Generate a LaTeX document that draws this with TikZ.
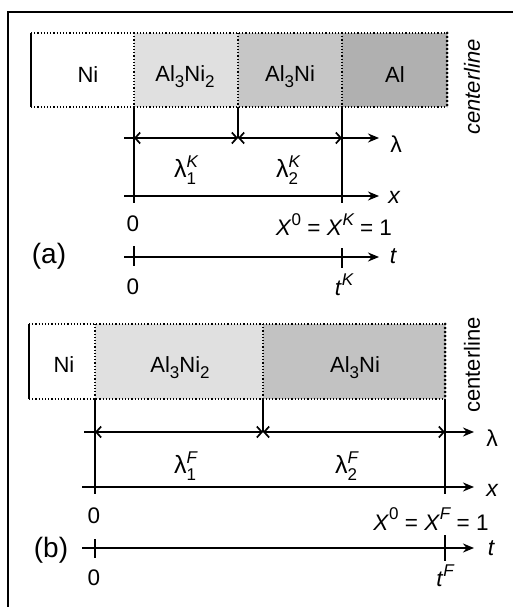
\documentclass[tikz,border=0pt]{standalone}
\usepackage{fontspec}
\setmainfont{Liberation Sans}
\usetikzlibrary{arrows.meta}
\newcommand\sbx[1]{\raisebox{-0.28em}{\fontsize{17}{17}\selectfont #1}}
\newcommand\spx[1]{\raisebox{0.45em}{\fontsize{17}{17}\selectfont #1}}
\newcommand\lamsym[2]{{\fontsize{25}{25}\selectfont λ}\rlap{\spx{\itshape #1}}\sbx{#2}}
\begin{document}
\begin{tikzpicture}[x=1pt,y=-1pt,
  lw/.style={line width=1.8pt},
  axis/.style={line width=1.8pt,-{Stealth[length=11pt,width=9pt]}},
  dimarrow/.style={line width=1.8pt,{Straight Barb[length=5pt,width=11pt,line width=1.7pt]}-{Straight Barb[length=5pt,width=11pt,line width=1.7pt]}},
  dotb/.style={line width=1.2pt,dotted},
  heavydot/.style={line width=3pt,line cap=round,dash pattern=on 0pt off 4pt},
  phase/.style={font=\fontsize{22}{24}\selectfont, inner sep=1pt},
  lab/.style={font=\fontsize{22.5}{24}\selectfont, inner sep=1pt},
  axlab/.style={font=\fontsize{23}{25}\selectfont, inner sep=1pt},
  big/.style={font=\fontsize{28}{30}\selectfont, inner sep=1pt},
  cl/.style={font=\fontsize{22}{24}\selectfont, rotate=90, inner sep=1pt}]
\useasboundingbox (0,0) rectangle (513,607);
% frame
\draw[line width=1.3pt] (513,12) -- (8,12) -- (8,607);

% ---------------- panel (a)
\fill[gray!24] (134,33) rectangle (238,107);
\fill[gray!45] (238,33) rectangle (342,107);
\fill[gray!62] (342,33) rectangle (447,107);
\draw[dotb] (31,33) -- (447,33);
\draw[dotb] (31,107) -- (447,107);
\draw[dotb] (134,33) -- (134,107);
\draw[dotb] (238,33) -- (238,107);
\draw[dotb] (342,33) -- (342,107);
\draw[lw] (31,33) -- (31,107);
\draw[heavydot] (447,33) -- (447,107);
\node[phase] (niA) at (88,75) {Ni};
\node[phase] (a32A) at (185,77) {Al\sbx{3}Ni\sbx{2}};
\node[phase] (a3A) at (290,77) {Al\sbx{3}Ni};
\node[phase] (alA) at (395,75) {Al};
\node[cl] (clA) at (472,87) {\itshape centerline};

\coordinate (a0b) at (134,107);
\coordinate (a1b) at (238,107);
\coordinate (a2b) at (342,107);
\coordinate (a0l) at (134,138);
\coordinate (a1l) at (238,138);
\coordinate (a2l) at (342,138);
\coordinate (alS) at (124,138);
\coordinate (alE) at (379,138);
\coordinate (a0x) at (134,203);
\coordinate (a2x) at (342,203);
\coordinate (axS) at (124,196);
\coordinate (axE) at (379,196);
\coordinate (atS) at (124,257);
\coordinate (atE) at (379,257);
\draw[lw] (a0b) -- (a0x);
\draw[lw] (a1b) -- (a1l);
\draw[lw] (a2b) -- (a2x);
\draw[lw] (alS) -- (a0l);
\draw[dimarrow] (a0l) -- (a1l);
\draw[dimarrow] (a1l) -- (a2l);
\draw[axis] (a2l) -- (alE);
\draw[axis] (axS) -- (axE);
\draw[axis] (atS) -- (atE);
\draw[lw] (134,246) -- (134,266);
\draw[lw] (342,248) -- (342,268);
\node[axlab] (lamA) at (396,144) {λ};
\node[axlab] (xA) at (394,197) {\itshape x};
\node[axlab] (tA) at (393,256) {\itshape t};
\node[lab] (l1A) at (185,170) {\lamsym{K}{1}};
\node[lab] (l2A) at (287,170) {\lamsym{K}{2}};
\node[lab] (z1A) at (133,224) {0};
\node[lab] (eqA) at (334,225) {\textit{X}\spx{0} = \textit{X}\spx{\itshape K} = 1};
\node[big] (pa) at (49,256) {(a)};
\node[lab] (z2A) at (133,287) {0};
\node[lab] (tKA) at (344,285) {\textit{t}\spx{\itshape K}};

% ---------------- panel (b)
\fill[gray!24] (95,324) rectangle (263,399);
\fill[gray!48] (263,324) rectangle (445,399);
\draw[dotb] (29,324) -- (445,324);
\draw[dotb] (29,399) -- (445,399);
\draw[dotb] (95,324) -- (95,399);
\draw[dotb] (263,324) -- (263,399);
\draw[lw] (29,324) -- (29,399);
\draw[heavydot] (445,324) -- (445,399);
\node[phase] (niB) at (64,365) {Ni};
\node[phase] (a32B) at (180,368) {Al\sbx{3}Ni\sbx{2}};
\node[phase] (a3B) at (355,368) {Al\sbx{3}Ni};
\node[cl] (clB) at (472,365) {centerline};

\coordinate (b0b) at (95,399);
\coordinate (b1b) at (263,399);
\coordinate (b2b) at (445,399);
\coordinate (b0l) at (95,432);
\coordinate (b1l) at (263,432);
\coordinate (b2l) at (445,432);
\coordinate (blS) at (84,432);
\coordinate (blE) at (474,432);
\coordinate (b0x) at (95,494);
\coordinate (b2x) at (445,494);
\coordinate (bxS) at (82,487);
\coordinate (bxE) at (474,487);
\coordinate (btS) at (82,548);
\coordinate (btE) at (474,548);
\draw[lw] (b0b) -- (b0x);
\draw[lw] (b1b) -- (b1l);
\draw[lw] (b2b) -- (b2x);
\draw[lw] (blS) -- (b0l);
\draw[dimarrow] (b0l) -- (b1l);
\draw[dimarrow] (b1l) -- (b2l);
\draw[axis] (b2l) -- (blE);
\draw[axis] (bxS) -- (bxE);
\draw[axis] (btS) -- (btE);
\draw[lw] (95,539) -- (95,558);
\draw[lw] (445,535) -- (445,561);
\node[axlab] (lamB) at (492,438) {λ};
\node[axlab] (xB) at (492,490) {\itshape x};
\node[axlab] (tB) at (491,548) {\itshape t};
\node[lab] (l1B) at (185,466) {\lamsym{F}{1}};
\node[lab] (l2B) at (346,466) {\lamsym{F}{2}};
\node[lab] (z1B) at (94,516) {0};
\node[lab] (eqB) at (431,519) {\textit{X}\spx{0} = \textit{X}\spx{\itshape F} = 1};
\node[big] (pb) at (51,550) {(b)};
\node[lab] (z2B) at (94,578) {0};
\node[lab] (tFB) at (445,576) {\textit{t}\spx{\itshape F}};
\end{tikzpicture}
\end{document}
